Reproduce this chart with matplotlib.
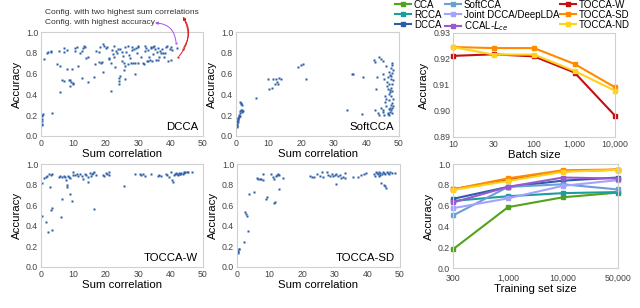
import numpy as np
import matplotlib
matplotlib.use('Agg')
import matplotlib.pyplot as plt

plt.rcParams['font.family'] = ['Liberation Sans', 'DejaVu Sans']

# scatter data: (sum correlation, accuracy)
dcca_pts = [(0.2,0.12),(0.2,0.14),(0.3,0.11),(0.2,0.16),(0.4,0.19),(0.6,0.21),(0.3,0.2),
            (1,0.74),(2,0.8),(2.3,0.81),(3,0.81),(3.2,0.82),(3.3,0.22),
            (5,0.69),(5.5,0.82),(6,0.67),(5.8,0.42),(6.5,0.54),(7,0.53),(7,0.81),(7.2,0.85),
            (8,0.83),(8,0.64),(8.5,0.54),(9,0.54),(9,0.48),(9.2,0.52),(9.5,0.64),(9.8,0.51),
            (10,0.5),(10.5,0.82),(10.5,0.85),(11,0.86),(11.3,0.67),(12,0.8),(12.5,0.82),
            (12.7,0.56),(13,0.85),(13.4,0.87),(13.6,0.86),(14,0.75),(14.4,0.76),(14.5,0.52),
            (16.5,0.57),(16.7,0.69),(17,0.82),(17.8,0.71),(18,0.81),(18.3,0.86),(18.5,0.7),
            (18.7,0.71),(19,0.88),(19,0.62),(19.5,0.87),(20,0.85),(20.5,0.86),(21,0.75),
            (21,0.74),(21.5,0.7),(21.7,0.43),(22,0.83),(22.2,0.79),(22.5,0.76),(22.7,0.66),
            (22.5,0.87),(23,0.82),(23.5,0.8),(23.8,0.84),(24,0.56),(24,0.53),(24,0.5),
            (24.3,0.58),(24.5,0.84),(25,0.72),(25,0.81),(25.3,0.77),(25.5,0.7),(25.7,0.63),
            (26,0.86),(26,0.67),(26,0.55),(26.3,0.81),(26.7,0.69),(27,0.87),(27.2,0.78),
            (27.5,0.75),(27.7,0.7),(28,0.83),(28,0.86),(28.5,0.7),(28.8,0.84),(29,0.6),
            (29,0.7),(29.4,0.85),(29.5,0.8),(29.8,0.87),(30,0.86),(30,0.7),(31,0.76),
            (31.5,0.7),(31.7,0.69),(32,0.87),(32.2,0.82),(32.5,0.85),(32.7,0.72),(33,0.83),
            (33,0.72),(33.3,0.76),(33.5,0.73),(34,0.85),(34,0.86),(34.3,0.72),(34.5,0.79),
            (34.7,0.86),(35,0.87),(35.3,0.84),(35.5,0.73),(35.7,0.81),(36,0.85),(36,0.73),
            (36.3,0.76),(36.8,0.82),(37,0.8),(37.3,0.84),(37.8,0.8),(38,0.76),(38.4,0.8),
            (38.7,0.86),(39,0.87),(39.2,0.72),(39.7,0.84),(40,0.86),(40.4,0.83),(40.2,0.73),
            (42,0.85)]
# highlighted configs
best_acc_pt = (41.7, 0.89)
best_corr_pts = [(43.8, 0.84), (42.4, 0.76)]

softcca_pts = [(0.2,0.09),(0.2,0.1),(0.3,0.11),(0.3,0.12),(0.4,0.13),(0.4,0.14),(0.5,0.15),
               (0.6,0.16),(0.7,0.17),(0.8,0.18),(0.9,0.19),(1.0,0.2),(1.1,0.19),(1.2,0.22),
               (1.3,0.24),(1.5,0.25),(1.7,0.23),(1.9,0.25),(2.0,0.24),(1.2,0.33),(1.4,0.32),
               (1.6,0.31),(1.8,0.3),(0.5,0.13),(0.6,0.17),
               (6,0.37),(9.8,0.55),(10,0.45),(11,0.46),(11.5,0.55),(12,0.5),(12.3,0.55),
               (12.7,0.52),(13,0.5),(13.2,0.56),(13.7,0.55),(19,0.66),(20,0.68),(20.5,0.69),
               (21.5,0.55),
               (34.2,0.25),(35.5,0.6),(36,0.6),(38.5,0.21),(39,0.57),(42.2,0.73),(42.5,0.71),
               (42.5,0.25),(43,0.45),(43.2,0.57),(43.5,0.22),(44,0.2),(44,0.76),(44.5,0.74),
               (45,0.72),(45,0.6),(45.2,0.25),(45.5,0.2),(45.5,0.55),(45.8,0.38),(46,0.67),
               (46,0.36),(46,0.29),(46.3,0.52),(46.5,0.22),(46.5,0.45),(46.7,0.57),(46.8,0.26),
               (47,0.62),(47,0.5),(47,0.35),(47,0.2),(47.2,0.59),(47.3,0.42),(47.4,0.3),
               (47.5,0.65),(47.5,0.55),(47.5,0.46),(47.5,0.25),(47.6,0.38),(47.7,0.7),
               (47.8,0.61),(47.8,0.32),(47.9,0.27),(48,0.68),(48,0.5),(48,0.43),(48,0.22),
               (48.1,0.36),(48.2,0.63),(47.3,0.23),(46.2,0.48),(45.7,0.33),(46.9,0.4),
               (47.1,0.27),(47.6,0.58),(48.1,0.29),(48.3,0.54),(44.5,0.27),(45,0.23),
               (46.6,0.21),(47.2,0.44)]

toccaw_pts = [(0.2,0.82),(0.4,0.5),(1,0.86),(1.5,0.87),(1.5,0.44),(2,0.88),(2.3,0.34),
              (2.5,0.9),(2.7,0.78),(3,0.89),(3.2,0.55),(3.4,0.57),(3.5,0.9),(3.5,0.36),
              (5.5,0.87),(6,0.88),(6.3,0.49),(6.5,0.87),(6.5,0.66),(7,0.88),(7.3,0.87),
              (7.7,0.84),(8,0.8),(8,0.78),(8.3,0.88),(8.7,0.87),(9,0.86),(9,0.71),(9.7,0.64),
              (10,0.92),(10,0.89),(10.5,0.89),(11,0.9),(11.5,0.88),(12,0.9),(12.5,0.88),
              (13,0.85),(13.5,0.9),(14,0.89),(14.5,0.87),(14.5,0.83),(15,0.91),(15.5,0.88),
              (15.8,0.9),(16,0.91),(16.5,0.92),(16.5,0.56),(17,0.89),(19,0.89),(19.5,0.88),
              (20,0.91),(20.5,0.9),(21,0.92),(21,0.89),(25.5,0.79),(29,0.9),(30.5,0.9),
              (31,0.89),(31.5,0.9),(32,0.88),(34,0.9),(36,0.88),(36.5,0.89),(37,0.88),
              (38.5,0.9),(39,0.89),(39.5,0.87),(40,0.92),(40.5,0.84),(40.7,0.83),(41,0.89),
              (41.5,0.9),(42,0.9),(42.3,0.89),(42.5,0.91),(43,0.9),(43.3,0.91),(43.7,0.9),
              (44,0.92),(44.2,0.91),(44.5,0.92),(45,0.92),(45.5,0.92),(46.5,0.92),(41.8,0.91),
              (42.8,0.9)]

toccasd_pts = [(0.3,0.14),(0.4,0.16),(0.5,0.17),(0.3,0.15),(0.7,0.17),(2,0.24),(2.5,0.53),
               (2.8,0.51),(3,0.5),(3.3,0.35),(3.8,0.71),(5.3,0.73),(6,0.86),(6.5,0.85),
               (7,0.85),(7.5,0.85),(8,0.9),(8,0.84),(8.8,0.66),(9.3,0.68),(10.3,0.9),(11,0.87),
               (11.3,0.85),(11.5,0.62),(11.8,0.63),(12,0.88),(12.2,0.89),(12.5,0.9),(12.8,0.76),
               (13,0.89),(14.2,0.86),(22.5,0.88),(23,0.87),(23.5,0.87),(24.5,0.9),(25.5,0.88),
               (26,0.92),(26.5,0.87),(27.5,0.92),(28,0.89),(28.5,0.88),(29,0.9),(29.5,0.88),
               (30,0.89),(30.3,0.81),(30.5,0.9),(31,0.88),(31.5,0.89),(32,0.86),(32.5,0.87),
               (33,0.91),(33.2,0.86),(35.5,0.87),(37,0.87),(38,0.89),(39,0.9),(39.5,0.91),
               (42,0.9),(42.2,0.88),(42.5,0.92),(43,0.91),(43.2,0.9),(43.5,0.88),(43.7,0.92),
               (44,0.91),(44.2,0.82),(44.5,0.9),(44.8,0.92),(45,0.91),(45.2,0.8),(45.5,0.79),
               (45.7,0.77),(46,0.92),(46.2,0.91),(46.5,0.9),(47,0.92),(47.5,0.91),(48.5,0.91),
               (45.5,0.9),(44,0.89)]

# line charts
batch_labels = ['10', '30', '100', '1,000', '10,000']
batch_acc = {
    'TOCCA-W':  [0.9212, 0.9218, 0.9210, 0.9148, 0.8982],
    'TOCCA-SD': [0.9246, 0.9242, 0.9242, 0.9181, 0.9091],
    'TOCCA-ND': [0.9246, 0.9217, 0.9217, 0.9154, 0.9078],
}

train_labels = ['300', '1,000', '10,000', '50,000']
train_acc = {
    'CCA':                [0.18, 0.585, 0.68, 0.725],
    'RCCA':               [0.645, 0.69, 0.72, 0.73],
    'DCCA':               [0.665, 0.78, 0.84, 0.87],
    'SoftCCA':            [0.505, 0.78, 0.805, 0.755],
    'Joint DCCA/DeepLDA': [0.575, 0.67, 0.79, 0.845],
    'CCAL-$L_{ce}$':      [0.63, 0.78, 0.87, 0.86],
    'TOCCA-W':            [0.757, 0.845, 0.93, 0.945],
    'TOCCA-SD':           [0.757, 0.862, 0.94, 0.947],
    'TOCCA-ND':           [0.75, 0.837, 0.925, 0.943],
}

colors = {
    'CCA': '#52a31c', 'RCCA': '#1d9c9c', 'DCCA': '#2b5ea7', 'SoftCCA': '#6c9fd6',
    'Joint DCCA/DeepLDA': '#a3a3ff', 'CCAL-$L_{ce}$': '#9b59d0',
    'TOCCA-W': '#c40f14', 'TOCCA-SD': '#ff8a00', 'TOCCA-ND': '#ffd21a',
}

W, H = 640, 308
fig = plt.figure(figsize=(6.4, 3.08), dpi=100)

LAB = 8.2
MS = 2.0


def box(l, t, r, b):
    return [l / W, 1 - b / H, (r - l) / W, (b - t) / H]


def style(ax):
    for s in ax.spines.values():
        s.set_color('#d0d0d0')
        s.set_linewidth(0.8)
    ax.tick_params(length=0, labelsize=6.3, colors='#444444', pad=2)


def scatter_panel(ax, pts, name):
    x, y = zip(*pts)
    ax.plot(x, y, 's', ms=MS, color='#2b5ea7', mec='none', clip_on=False)
    ax.set_xlim(0, 50)
    ax.set_ylim(0, 1)
    ax.set_xticks(range(0, 51, 10))
    ax.set_yticks(np.arange(0, 1.01, 0.2))
    ax.set_yticklabels(['%.1f' % v for v in np.arange(0, 1.01, 0.2)])
    ax.set_xlabel('Sum correlation', fontsize=LAB, labelpad=1)
    ax.set_ylabel('Accuracy', fontsize=LAB, labelpad=3)
    ax.text(0.97, 0.04, name, transform=ax.transAxes, ha='right', va='bottom', fontsize=8.2)
    style(ax)


ax1 = fig.add_axes(box(41, 32, 203, 136))
ax2 = fig.add_axes(box(236, 32, 399, 136))
ax3 = fig.add_axes(box(41, 164, 203, 267))
ax4 = fig.add_axes(box(237, 164, 400, 267))
ax5 = fig.add_axes(box(453, 33, 615, 137))
ax6 = fig.add_axes(box(453, 164, 618, 268))

scatter_panel(ax1, dcca_pts, 'DCCA')
scatter_panel(ax2, softcca_pts, 'SoftCCA')
scatter_panel(ax3, toccaw_pts, 'TOCCA-W')
scatter_panel(ax4, toccasd_pts, 'TOCCA-SD')

# annotations on DCCA panel
ax1.plot([best_acc_pt[0]], [best_acc_pt[1]], 's', ms=MS, color='#b04cff', mec='none',
         clip_on=False)
ax1.plot([p[0] for p in best_corr_pts], [p[1] for p in best_corr_pts], 's', ms=MS,
         color='#d42020', mec='none', clip_on=False)
fig.text(45 / W, 1 - 13 / H, 'Config. with two highest sum correlations', fontsize=6,
         color='#333333', va='center')
fig.text(45 / W, 1 - 23 / H, 'Config. with highest accuracy', fontsize=6,
         color='#333333', va='center')
ax1.annotate('', xy=(155, H - 23), xycoords='figure pixels', xytext=best_acc_pt,
             textcoords='data', annotation_clip=False,
             arrowprops=dict(arrowstyle='-|>', color='#b04cff', lw=0.7, mutation_scale=4,
                             connectionstyle='arc3,rad=0.45', shrinkA=1, shrinkB=0))
for (px, py), rad in zip(best_corr_pts, [0.35, 0.35]):
    ax1.annotate('', xy=(183, H - 17), xycoords='figure pixels', xytext=(px, py),
                 textcoords='data', annotation_clip=False,
                 arrowprops=dict(arrowstyle='-|>', color='#d42020', lw=0.7, mutation_scale=4,
                                 connectionstyle='arc3,rad=%s' % rad, shrinkA=1, shrinkB=0))

# batch size panel
xb = np.arange(len(batch_labels))
for name, vals in batch_acc.items():
    ax5.plot(xb, vals, '-s', color=colors[name], lw=1.5, ms=3, clip_on=False)
ax5.set_xlim(0, len(batch_labels) - 1)
ax5.set_ylim(0.89, 0.93)
ax5.set_xticks(xb)
ax5.set_xticklabels(batch_labels)
ax5.set_yticks([0.89, 0.90, 0.91, 0.92, 0.93])
ax5.set_yticklabels(['0.89', '0.90', '0.91', '0.92', '0.93'])
ax5.set_xlabel('Batch size', fontsize=LAB, labelpad=1)
ax5.set_ylabel('Accuracy', fontsize=LAB, labelpad=3)
style(ax5)

# training set size panel
xt = np.arange(len(train_labels))
handles = []
for name, vals in train_acc.items():
    h, = ax6.plot(xt, vals, '-s', color=colors[name], lw=1.5, ms=3, clip_on=False, label=name)
    handles.append(h)
ax6.set_xlim(0, len(train_labels) - 1)
ax6.set_ylim(0, 1)
ax6.set_xticks(xt)
ax6.set_xticklabels(train_labels)
ax6.set_yticks(np.arange(0, 1.01, 0.2))
ax6.set_yticklabels(['%.1f' % v for v in np.arange(0, 1.01, 0.2)])
ax6.set_xlabel('Training set size', fontsize=LAB, labelpad=1)
ax6.set_ylabel('Accuracy', fontsize=LAB, labelpad=3)
style(ax6)
ax6.tick_params(axis='x', pad=4)

# legend: three columns placed separately
for i, x0 in enumerate([395, 445, 560]):
    fig.legend(handles=handles[3 * i:3 * i + 3], loc='upper left',
               bbox_to_anchor=(x0 / W, 1 + 0.5 / H), fontsize=7, frameon=False,
               handlelength=1.6, handletextpad=0.35, labelspacing=0.0,
               borderpad=0, borderaxespad=0)

fig.savefig('out.png', dpi=100)
